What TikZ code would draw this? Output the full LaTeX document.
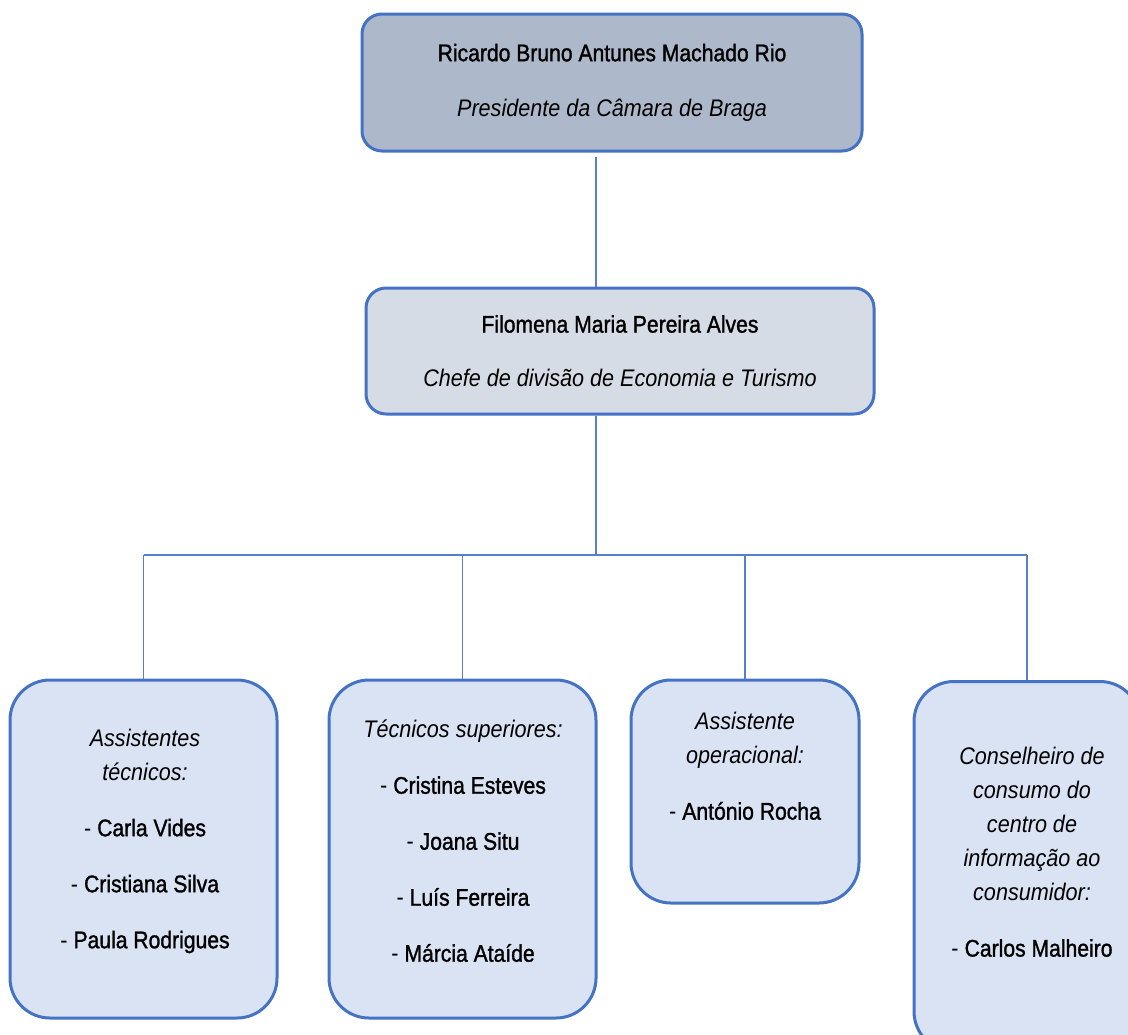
\documentclass[tikz,border=0pt]{standalone}
\usepackage{fontspec}
\setmainfont{Liberation Sans}[FakeStretch=0.9]
\newfontfamily\nomefont{Liberation Sans}[FakeStretch=0.88, FakeBold=1.3]
\usetikzlibrary{positioning}
\definecolor{chartblue}{HTML}{4472C4}
\definecolor{presfill}{HTML}{ADB9CA}
\definecolor{chefefill}{HTML}{D6DCE5}
\definecolor{stafffill}{HTML}{DAE3F3}
\tikzset{
  chartbox/.style={draw=chartblue, line width=1.5pt, inner sep=0pt},
  headbox/.style={chartbox, rounded corners=10pt, align=center,
    font=\fontsize{12}{17}\selectfont},
  staffbox/.style={chartbox, fill=stafffill, rounded corners=20pt},
  stafftext/.style={align=center, inner sep=0pt, font=\fontsize{12}{17}\selectfont},
  link/.style={draw=chartblue!90, line width=0.75pt}
}
\newcommand\cargo[1]{\textit{#1}}
\newcommand\nome[1]{{\nomefont #1}}

\begin{document}
\begin{tikzpicture}[x=0.5pt,y=-0.5pt]
    \useasboundingbox (0,0) rectangle (1128,1034);
    \clip (0,0) rectangle (1128,1034);
    % chefias
    \node[headbox, fill=presfill, minimum width=250pt, minimum height=68.5pt]
        (pres) at (612,82.5) {\nome{Ricardo Bruno Antunes Machado Rio}\\[10.5pt] \cargo{Presidente da Câmara de Braga}};
    \node[headbox, fill=chefefill, minimum width=254pt, minimum height=63pt]
        (chefe) at (620,351) {\nome{Filomena Maria Pereira Alves}\\[10pt] \cargo{Chefe de divisão de Economia e Turismo}};
    % equipa
    \node[staffbox, minimum width=133.5pt, minimum height=169pt] (assist) at (143.5,849) {};
    \node[staffbox, minimum width=133.5pt, minimum height=169pt] (tecsup) at (462.5,849) {};
    \node[staffbox, minimum width=114pt, minimum height=111.5pt] (operac) at (745,791.5) {};
    \node[staffbox, minimum width=113pt, minimum height=185pt] (consel) at (1027,866.5) {};
    \node[stafftext] (assisttxt) at (145,841) {\cargo{Assistentes}\\\cargo{técnicos:}\\[11pt]
        - \nome{Carla Vides}\\[11pt] - \nome{Cristiana Silva}\\[11pt] - \nome{Paula Rodrigues}};
    \node[stafftext] (tecsuptxt) at (463,841) {\cargo{Técnicos superiores:}\\[11pt]
        - \nome{Cristina Esteves}\\[11pt] - \nome{Joana Situ}\\[11pt] - \nome{Luís Ferreira}\\[11pt] - \nome{Márcia Ataíde}};
    \node[stafftext] (operactxt) at (745,766) {\cargo{Assistente}\\\cargo{operacional:}\\[11pt]
        - \nome{António Rocha}};
    \node[stafftext] (conseltxt) at (1032,852) {\cargo{Conselheiro de}\\\cargo{consumo do}\\\cargo{centro de}\\
        \cargo{informação ao}\\\cargo{consumidor:}\\[11pt] - \nome{Carlos Malheiro}};
    % ligacoes
    \coordinate (bus) at (596,555);
    \draw[link] ([yshift=-2pt]pres.south -| bus) -- (chefe.north -| bus);
    \draw[link] (chefe.south -| bus) -- (bus);
    \draw[link] (assist.north |- bus) -- (consel.north |- bus);
    \draw[link] (assist.north |- bus) -- (assist.north);
    \draw[link] (tecsup.north |- bus) -- (tecsup.north);
    \draw[link] (operac.north |- bus) -- (operac.north);
    \draw[link] (consel.north |- bus) -- (consel.north);
\end{tikzpicture}
\end{document}
